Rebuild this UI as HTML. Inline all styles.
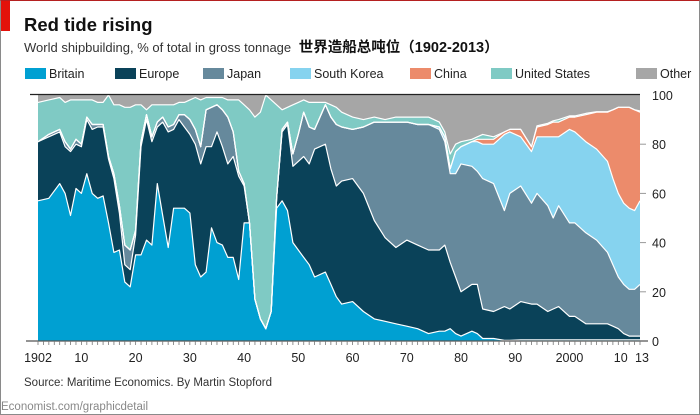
<!DOCTYPE html>
<html><head><meta charset="utf-8"><style>
body{margin:0;background:#fff;}
#wrap{position:relative;width:700px;height:415px;overflow:hidden;font-family:"Liberation Sans","Noto Sans CJK SC",sans-serif;box-sizing:border-box;border:1px solid #8a8a8a;border-top:1px solid #b52020;}
svg text{font-family:"Liberation Sans","Noto Sans CJK SC",sans-serif;}
</style></head><body>
<div id="wrap">
<svg id="chart" width="700" height="415" style="position:absolute;left:-1px;top:-1px">
<rect x="0" y="0" width="10" height="31" fill="#e3120b"/>
<text x="24" y="31" font-size="18.5" font-weight="bold" fill="#111">Red tide rising</text>
<text x="24" y="52" font-size="13" fill="#333">World shipbuilding, % of total in gross tonnage <tspan font-size="14.5" font-weight="bold" fill="#111" dx="4">世界造船总吨位（1902-2013）</tspan></text>
<g id="legend"></g>
<g id="plot"></g>
<text x="24" y="386" font-size="11.5" fill="#333">Source: Maritime Economics. By Martin Stopford</text>
<text x="1" y="410" font-size="11.5" fill="#888">Economist.com/graphicdetail</text>
</svg>
</div>
<script>
// Cumulative stack tops (% of world gross tonnage), stacked in order Britain, Europe, Japan, South Korea, China, United States; Other fills to 100
const years=[1902,1904,1906,1907,1908,1909,1910,1911,1912,1913,1914,1915,1916,1917,1918,1919,1920,1921,1922,1923,1924,1925,1926,1927,1928,1929,1930,1931,1932,1933,1934,1935,1936,1937,1938,1939,1940,1941,1942,1943,1944,1945,1946,1947,1948,1949,1950,1951,1952,1953,1955,1956,1957,1958,1960,1962,1964,1966,1968,1970,1972,1974,1976,1977,1978,1979,1980,1982,1983,1984,1986,1988,1989,1991,1993,1994,1996,1997,1998,2000,2001,2003,2005,2007,2008,2009,2010,2011,2012,2013];
const britainTop=[57,58,64,60,51,62,60,68,60,58,59,48,36,37,24,22,35,35,41,39,64,51,38,54,54,54,52,31,26,28,46,40,39,34,34,25,48,48,17,9,5,12,54,57,53,40,37,34,31,26,28,23,18,15,16,12,9,8,7,6,5,3,4,4,5,3,2,4,3,1,1,0.3,0.3,0.5,0.5,0.5,0.5,0.5,0.5,0.5,0.5,0.5,0.5,0.5,0.5,0.5,0.5,0.5,0.5,0.5];
const europeTop=[81,83,85,79,77,80,79,90,86,87,87,74,66,52,31,29,43,79,90,81,87,89,85,86,90,87,84,80,72,79,79,85,79,72,75,67,63,48,17,9,5,12,58,85,88,71,73,75,72,78,80,70,63,65,66,60,49,42,38,41,39,37,37,39,32,26,20,23,23,13,12,14,13,16,15,15,12,13,14,10,10,7,7,7,6,5,3,2,2,2];
const japanTop=[81,84,86,81,78,82,80,91,88,88,88,75,68,55,39,37,45,81,92,83,89,91,87,88,92,92,90,86,79,94,95,96,94,91,85,69,64,48,17,9,5,12,58,86,89,76,84,93,87,86,96,91,88,87,86,87,89,89,89,89,88,88,86,81,68,68,72,71,69,66,64,53,60,63,56,60,55,50,55,48,48,44,41,36,31,26,23,21,21,23];
const koreaTop=[81,84,86,81,78,82,80,91,88,88,88,75,68,55,39,37,45,81,92,83,89,91,87,88,92,92,90,86,79,94,95,96,94,91,85,69,64,48,17,9,5,12,58,86,89,76,84,93,87,86,96,91,88,87,86,87,89,89,89,89,88,88,87,83,70,77,79,81,81,80,80,84,85,83,77,83,83,83,83,86,85,81,78,73,66,60,56,54,53,57];
const chinaTop=[81,84,86,81,78,82,80,91,88,88,88,75,68,55,39,37,45,81,92,83,89,91,87,88,92,92,90,86,79,94,95,96,94,91,85,69,64,48,17,9,5,12,58,86,89,76,84,93,87,86,96,91,88,87,86,87,89,89,89,89,88,88,87,83,70,77,79,81,82,82,82,85,86,86,79,87,88,89,89,91,91,92,93,93,94,95,95,95,94,93];
const usTop=[97,98,99,97,98,98,98,98,98,97,97,100,96,96,95,95,96,96,94,96,96,96,96,96,97,97,98,99,98,99,99,99,99,98,98,98,96,94,91,93,100,98,96,94,95,96,97,98,97,97,97,96,95,93,91,90,91,90,91,91,91,91,89,85,76,80,81,82,83,84,83,85,86,86,79,87.5,88.5,89.5,90,91.5,91.5,92.5,93.2,93.2,94,95,95,95,94,93.5];
const yTicks=[0,20,40,60,80,100];
const xTickLabels=["1902","10","20","30","40","50","60","70","80","90","2000","10","13"];
const xTickYears=[1902,1910,1920,1930,1940,1950,1960,1970,1980,1990,2000,2010,2013];
const seriesNames=["Britain","Europe","Japan","South Korea","China","United States","Other"];
const seriesColors=["#00a0d2","#0a4259","#66899c","#86d3ef","#ec8b6b","#7fcac4","#a6a6a6"];

const NS="http://www.w3.org/2000/svg";
const X0=38,X1=640,Y0=341,Y1=95;
const xs=y=>X0+(y-1902)/(2013-1902)*(X1-X0);
const ys=v=>Y0-v/100*(Y0-Y1);
function mk(tag,attrs,parent){const e=document.createElementNS(NS,tag);for(const k in attrs)e.setAttribute(k,attrs[k]);parent.appendChild(e);return e;}
const plot=document.getElementById('plot');
const zero=years.map(()=>0), hundred=years.map(()=>100);
const layers=[[zero,britainTop],[britainTop,europeTop],[europeTop,japanTop],[japanTop,koreaTop],[koreaTop,chinaTop],[chinaTop,usTop],[usTop,hundred]];
const layerNames=["area-britain","area-europe","area-japan","area-south-korea","area-china","area-united-states","area-other"];
layers.forEach((l,i)=>{
  let d="M"+years.map((y,j)=>xs(y).toFixed(1)+","+ys(l[1][j]).toFixed(1)).join("L");
  for(let j=years.length-1;j>=0;j--)d+="L"+xs(years[j]).toFixed(1)+","+ys(l[0][j]).toFixed(1);
  const p=mk('path',{d:d+"Z",fill:seriesColors[i]},plot);
  
  
});
[britainTop,europeTop,japanTop,koreaTop,chinaTop,usTop].forEach((arr,i)=>{
  const p=mk('path',{d:"M"+years.map((y,j)=>xs(y).toFixed(1)+","+ys(arr[j]).toFixed(1)).join("L"),fill:"none",stroke:"#fff","stroke-width":1.2,"stroke-linejoin":"round"},plot);
  
  
});
yTicks.forEach(v=>{
  if(v>0&&v<100){const g=mk('line',{x1:X1,x2:X1+6,y1:ys(v),y2:ys(v),stroke:"#999","stroke-width":1},plot);
  
  }
  const t=mk('text',{x:X1+12,y:ys(v)+5,"font-size":12.5,fill:"#222"},plot);
  t.textContent=v;
  
  
});
const topLine=mk('line',{x1:30,x2:X1,y1:Y1-0.5,y2:Y1-0.5,stroke:"#222","stroke-width":1.3},plot);


const baseLine=mk('line',{x1:26,x2:X1+8,y1:Y0,y2:Y0,stroke:"#555","stroke-width":1.3},plot);


for(let y=1902;y<=2013;y++){
  const tk=mk('line',{x1:xs(y),x2:xs(y),y1:Y0,y2:Y0+4,stroke:"#777","stroke-width":0.8},plot);
  
  
}
xTickLabels.forEach((lab,i)=>{
  let x=xs(xTickYears[i]);
  if(lab==="10"&&xTickYears[i]===2010)x-=3;
  if(lab==="13")x+=2;
  const t=mk('text',{x:x,y:362,"font-size":12.5,fill:"#222","text-anchor":"middle"},plot);
  t.textContent=lab;
  
  
});
const legend=document.getElementById('legend');
const legX=[25,115,203,290,410,491,636];
seriesNames.forEach((n,i)=>{
  const g=mk('g',{},legend);
  
  
  mk('rect',{x:legX[i],y:68,width:21,height:11,fill:seriesColors[i]},g);
  const t=mk('text',{x:legX[i]+24,y:78,"font-size":12.5,fill:"#222"},g);
  t.textContent=n;
});
</script>
</body></html>
